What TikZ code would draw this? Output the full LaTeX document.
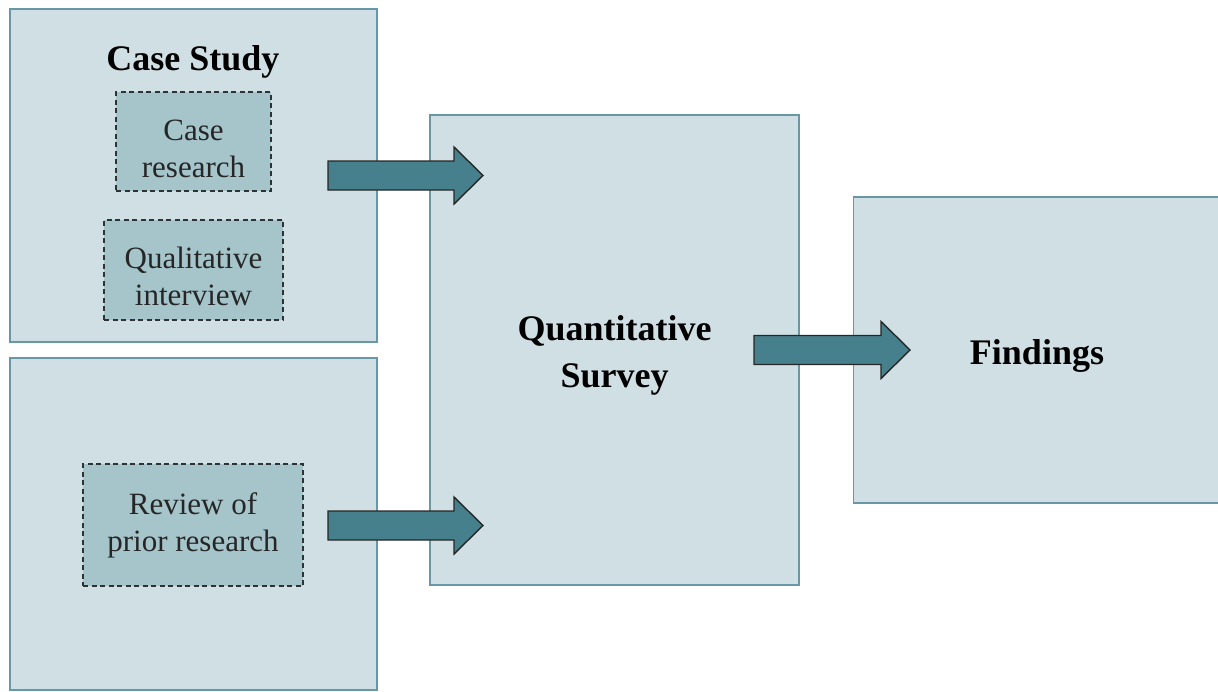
\documentclass[tikz,border=0pt]{standalone}
\usepackage{fontspec}
\setmainfont{Liberation Serif}
\usetikzlibrary{calc}
\definecolor{outerfill}{RGB}{208,223,227}
\definecolor{outerline}{RGB}{104,152,166}
\definecolor{innerfill}{RGB}{165,197,203}
\definecolor{innerline}{RGB}{45,50,52}
\definecolor{arrowfill}{RGB}{70,128,140}
\tikzset{
  outerbox/.style={draw=outerline, fill=outerfill, line width=1.5pt, rectangle, inner sep=0pt},
  innerbox/.style={draw=innerline, fill=innerfill, line width=1.4pt, dash pattern=on 5pt off 3.5pt, rectangle, inner sep=0pt},
  innertext/.style={align=center, inner sep=0pt, font=\fontsize{31}{37}\selectfont, text=black!85},
  boldlabel/.style={font=\fontsize{36}{47}\selectfont\bfseries, align=center, inner sep=0pt, text=black},
  blockarrow/.style={draw=black!85, fill=arrowfill, line width=1.4pt, line join=miter},
}
\begin{document}
\begin{tikzpicture}[x=1pt,y=-1pt]
\useasboundingbox (0,0) rectangle (1218,691);
% outer boxes
\node[outerbox, minimum width=367pt, minimum height=333pt] (cs) at (193.5,175.5) {};
\node[outerbox, minimum width=367pt, minimum height=332pt] (pr) at (193.5,524) {};
\node[outerbox, minimum width=369pt, minimum height=470pt] (qs) at (614.5,350) {};
\node[outerbox, minimum width=367pt, minimum height=306pt] (fd) at (1037,350) {};
% labels of outer boxes
\node[boldlabel, anchor=base] (cstitle) at (193,70) {Case Study};
\node[boldlabel] (qstext) at ($(qs.center)+(0,5)$) {Quantitative\\Survey};
\node[boldlabel] (fdtext) at ($(fd.center)+(0,6)$) {Findings};
% inner dashed boxes
\node[innerbox, minimum width=155pt, minimum height=99pt] (cr) at (193.5,141.5) {};
\node[innerbox, minimum width=179pt, minimum height=100pt] (qi) at (193.5,270) {};
\node[innerbox, minimum width=220pt, minimum height=122pt] (rv) at (193,525) {};
\node[innertext] (crtext) at ($(cr.center)+(0,7)$) {Case\\research};
\node[innertext] (qitext) at ($(qi.center)+(0,6)$) {Qualitative\\interview};
\node[innertext] (rvtext) at ($(rv.center)+(0,0)$) {Review of\\prior research};
% arrow anchor coordinates
\coordinate (a1s) at (328,175.5);
\coordinate (a1e) at (483,175.5);
\coordinate (a2s) at (328,525.5);
\coordinate (a2e) at (483,525.5);
\coordinate (a3s) at (754,350);
\coordinate (a3e) at (910,350);
% block arrows
\foreach \s/\e in {a1s/a1e, a2s/a2e, a3s/a3e}{
  \draw[blockarrow] ($(\s)+(0,-14.5)$) -- ($(\e)+(-29,-14.5)$) -- ($(\e)+(-29,-28.5)$) -- (\e)
    -- ($(\e)+(-29,28.5)$) -- ($(\e)+(-29,14.5)$) -- ($(\s)+(0,14.5)$) -- cycle;
}
\end{tikzpicture}
\end{document}
